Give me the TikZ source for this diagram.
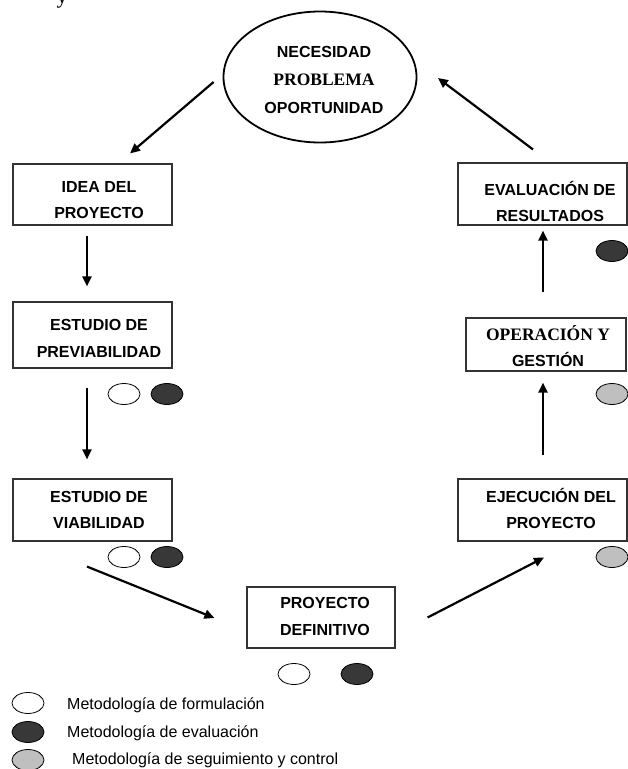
\documentclass[tikz,border=0pt]{standalone}
\usepackage{fontspec}
\setmainfont{Liberation Sans}
\newfontfamily\serifface{Liberation Serif}
\usetikzlibrary{arrows.meta,shapes.geometric}

\tikzset{
  stage/.style={draw=black!80, line width=1.1pt, minimum width=159pt,
    minimum height=61pt, inner sep=0pt},
  stagetext/.style={font=\fontsize{16}{26.5}\selectfont\bfseries,
    align=center, inner sep=0pt},
  flow/.style={line width=2.2pt, -{Triangle[length=10pt,width=9pt]}},
  method/.style={ellipse, draw=black, line width=0.8pt, minimum width=32pt,
    minimum height=21pt, inner sep=0pt},
  formul/.style={method, fill=white},
  evalu/.style={method, fill=black!78},
  segui/.style={method, fill=black!25},
  legendtext/.style={anchor=west, font=\fontsize{16}{19}\selectfont, inner sep=0pt},
}

\begin{document}
\begin{tikzpicture}[x=1pt,y=-1pt]
\useasboundingbox (0,0) rectangle (628,769);

% tail of a letter from the line above
\node[font=\serifface\fontsize{22}{24}\selectfont, anchor=base, inner sep=0pt] (tail) at (62,3) {y};

% starting point of the cycle
\node[ellipse, draw, line width=1.8pt, minimum width=193pt, minimum height=131pt, inner sep=0pt] (need) at (320,77) {};
\node[stagetext, font=\fontsize{16}{28}\selectfont\bfseries] (needtext) at (324,80)
  {NECESIDAD\\{\serifface\fontsize{17.5}{28}\selectfont\bfseries PROBLEMA}\\OPORTUNIDAD};

% project stages
\node[stage] (idea) at (92.5,194.5) {};
\node[stagetext] (ideatext) at (99,200) {IDEA DEL\\PROYECTO};

\node[stage, minimum height=66pt] (prev) at (92.5,335) {};
\node[stagetext] (prevtext) at (99,338.5) {ESTUDIO DE\\PREVIABILIDAD};

\node[stage, minimum height=62pt] (viab) at (92.5,510) {};
\node[stagetext] (viabtext) at (99,510) {ESTUDIO DE\\VIABILIDAD};

\node[stage, minimum width=148pt] (def) at (321,617.5) {};
\node[stagetext] (deftext) at (325,616.5) {PROYECTO\\DEFINITIVO};

\node[stage, minimum width=169pt, minimum height=62pt] (ejec) at (542.5,510) {};
\node[stagetext] (ejectext) at (551,508.5) {EJECUCIÓN DEL\\PROYECTO};

\node[stage, minimum width=160pt, minimum height=53pt] (oper) at (546,344.5) {};
\node[stagetext] (opertext) at (548,346)
  {{\serifface\fontsize{17.5}{26.5}\selectfont\bfseries OPERACIÓN Y}\\GESTIÓN};

\node[stage, minimum width=169pt, minimum height=62pt] (eval) at (542.5,194) {};
\node[stagetext] (evaltext) at (550,201.5) {EVALUACIÓN DE\\RESULTADOS};

% flow of the cycle
\draw[flow] ([xshift=-9pt,yshift=-5pt]need.west) -- ([xshift=37.5pt,yshift=10pt]idea.north);
\draw[flow] ([xshift=-5.5pt,yshift=-10pt]idea.south) -- ([xshift=-5.5pt,yshift=15pt]prev.north);
\draw[flow] ([xshift=-5.5pt,yshift=-19pt]prev.south) -- ([xshift=-5.5pt,yshift=19pt]viab.north);
\draw[flow] ([xshift=-5.5pt,yshift=-25pt]viab.south) -- ([xshift=-32pt,yshift=-0.5pt]def.west);
\draw[flow] ([xshift=32pt]def.east) -- ([xshift=1.5pt,yshift=-16pt]ejec.south);
\draw[flow] ([xshift=0.5pt,yshift=23pt]ejec.north) -- ([xshift=-3pt,yshift=-11pt]oper.south);
\draw[flow] ([xshift=-3pt,yshift=25pt]oper.north) -- ([xshift=0.5pt,yshift=-5pt]eval.south);
\draw[flow] ([xshift=-9.5pt,yshift=13pt]eval.north) -- ([xshift=20.5pt,yshift=-1pt]need.east);

% methodologies applied at each stage
\node[formul] (prevf) at (124,394) {};
\node[evalu]  (preve) at (167,394) {};
\node[formul] (viabf) at (124,557) {};
\node[evalu]  (viabe) at (167,557) {};
\node[formul] (deff)  at (294,674) {};
\node[evalu]  (defe)  at (357,674) {};
\node[evalu]  (evale) at (612,251) {};
\node[segui]  (opers) at (612,394) {};
\node[segui]  (ejecs) at (612,557) {};

% legend
\node[formul] (keyf) at (28,703) {};
\node[evalu]  (keye) at (28,732) {};
\node[segui]  (keys) at (28,760) {};
\node[legendtext] (keyftext) at (67,705) {Metodología de formulación};
\node[legendtext] (keyetext) at (67,733) {Metodología de evaluación};
\node[legendtext] (keystext) at (72,760) {Metodología de seguimiento y control};
\end{tikzpicture}
\end{document}
